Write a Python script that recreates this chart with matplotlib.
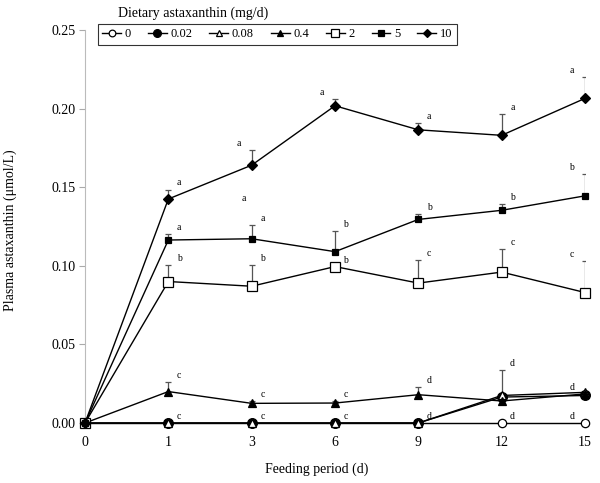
import numpy as np
import matplotlib
matplotlib.use("Agg")
import matplotlib.pyplot as plt

plt.rcParams['font.family'] = ['Liberation Serif', 'DejaVu Serif']

# feeding period (d), plotted as equally spaced categories
days = ['0', '1', '3', '6', '9', '12', '15']
doses = ['0', '0.02', '0.08', '0.4', '2', '5', '10']

# mean plasma astaxanthin (umol/L) per dose
val_0 = [0, 0, 0, 0, 0, 0, 0]
val_002 = [0, 0, 0, 0, 0, 0.0165, 0.0175]
val_008 = [0, 0, 0, 0, 0, 0.0175, 0.0195]
val_04 = [0, 0.020, 0.0125, 0.0127, 0.018, 0.014, 0.0185]
val_2 = [0, 0.090, 0.087, 0.0995, 0.089, 0.096, 0.083]
val_5 = [0, 0.1164, 0.1172, 0.109, 0.1295, 0.1353, 0.1445]
val_10 = [0, 0.1425, 0.164, 0.2018, 0.1865, 0.183, 0.2065]

# upper error bars (SD)
err_0 = [0, 0, 0, 0, 0, 0, 0]
err_002 = [0, 0, 0, 0, 0, 0, 0]
err_008 = [0, 0, 0, 0, 0, 0.016, 0]
err_04 = [0, 0.006, 0.0017, 0.0015, 0.0047, 0, 0]
err_2 = [0, 0.0102, 0.0133, 0, 0.0148, 0.0148, 0.020]
err_5 = [0, 0.0036, 0.009, 0.0133, 0.0032, 0.0038, 0.0136]
err_10 = [0, 0.006, 0.0095, 0.0045, 0.0045, 0.0135, 0.0135]

# significance letters
let_0 = ['', 'c', 'c', 'c', 'd', 'd', 'd']
let_008 = ['', '', '', '', '', 'd', '']
let_04 = ['', 'c', 'c', 'c', 'd', '', 'd']
let_2 = ['', 'b', 'b', 'b', 'c', 'c', 'c']
let_5 = ['', 'a', 'a', 'b', 'b', 'b', 'b']
let_10 = ['', 'a', 'a', 'a', 'a', 'a', 'a']
extra_letter = ('a', 2, 0.143)

series = [
    (val_0, err_0, let_0, dict(marker='o', mfc='white', ms=6)),
    (val_002, err_002, None, dict(marker='o', mfc='black', ms=7)),
    (val_008, err_008, let_008, dict(marker='^', mfc='white', ms=6)),
    (val_04, err_04, let_04, dict(marker='^', mfc='black', ms=6)),
    (val_2, err_2, let_2, dict(marker='s', mfc='white', ms=7)),
    (val_5, err_5, let_5, dict(marker='s', mfc='black', ms=5)),
    (val_10, err_10, let_10, dict(marker='D', mfc='black', ms=5.5)),
]
# which side of the point the letter sits (+1 right, -1 left)
side_10 = [1, 1, -1, -1, 1, 1, -1]
side_default = [1, 1, 1, 1, 1, 1, -1]

fig = plt.figure(figsize=(6, 4.83), dpi=100)
ax = fig.add_axes([85 / 600, 1 - 423 / 483, 500 / 600, 393 / 483])

x = np.arange(len(days))
handles = []
for (vals, errs, letters, style), dose in zip(series, doses):
    vals = np.array(vals)
    errs = np.array(errs)
    if errs.any():
        ax.errorbar(x, vals, yerr=[np.zeros_like(errs), errs], fmt='none',
                    ecolor='#555555', elinewidth=0.9, capsize=2.5, capthick=0.9, zorder=2)
    h, = ax.plot(x, vals, color='black', lw=1.0, mec='black', mew=0.9,
                 label=dose, zorder=3, clip_on=False, **style)
    handles.append(h)
    if letters is None:
        continue
    sides = side_10 if letters is let_10 else side_default
    for i, t in enumerate(letters):
        if not t:
            continue
        dx = 0.13 if sides[i] > 0 else -0.16
        ax.annotate(t, (x[i] + dx, vals[i] + errs[i]), xytext=(0, 1.5),
                    textcoords='offset points', ha='center', va='bottom', fontsize=7)

ax.text(extra_letter[1] - 0.09, extra_letter[2], extra_letter[0],
        ha='center', va='center', fontsize=7)

ax.set_xlim(0, len(days) - 1)
ax.set_ylim(0, 0.25)
ax.set_xticks(x)
ax.set_xticklabels(days)
ax.set_yticks(np.arange(0, 0.26, 0.05))
ax.set_yticklabels(['%.2f' % v for v in np.arange(0, 0.26, 0.05)])
ax.tick_params(axis='x', length=0, pad=9, labelsize=10)
ax.tick_params(axis='y', length=4, color='#aaaaaa', pad=3, labelsize=10)

for s in ['top', 'right']:
    ax.spines[s].set_visible(False)
ax.spines['left'].set_color('#bbbbbb')
ax.spines['bottom'].set_color('#bbbbbb')

ax.set_ylabel('Plasma astaxanthin (\u03bcmol/L)', fontsize=10)
ax.yaxis.set_label_coords(-0.135, 0.49)
ax.set_xlabel('Feeding period (d)', fontsize=10)
ax.xaxis.set_label_coords(0.464, -0.1)

leg = ax.legend(handles=handles, ncol=7, loc='upper left', bbox_to_anchor=(0.026, 1.015),
                borderaxespad=0, frameon=True, fancybox=False, fontsize=9,
                handlelength=1.5, handletextpad=0.3, columnspacing=1.35,
                borderpad=0.35, markerscale=0.8)
leg.get_frame().set_edgecolor('black')
leg.get_frame().set_linewidth(0.8)
fig.text(118 / 600, 1 - 13 / 483, 'Dietary astaxanthin (mg/d)', ha='left', va='center', fontsize=10)

fig.savefig('out.png', dpi=100)
